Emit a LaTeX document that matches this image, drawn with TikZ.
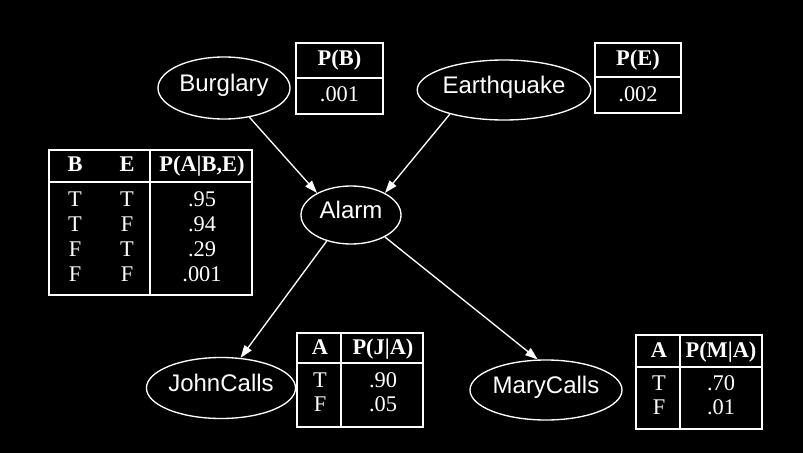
\documentclass[tikz,border=0pt]{standalone}
\usepackage{fontspec}
\setmainfont{Liberation Serif}
\newfontfamily\nodefont{Liberation Sans}
\usetikzlibrary{arrows.meta,shapes.geometric}
\tikzset{
  var/.style={draw=white, line width=1pt, ellipse, inner sep=0pt, text=white,
    font=\nodefont\fontsize{18}{20}\selectfont, text height=0.72em, text depth=0.21em},
  edge/.style={draw=white, line width=1pt, -{Triangle[length=9.5pt,width=6.5pt]}},
  frame/.style={draw=white, line width=1.5pt},
  sep/.style={draw=white, line width=2.1pt},
  cell/.style={text=white, inner sep=0pt, font=\fontsize{16.8}{18}\selectfont,
    text height=0.66em, text depth=0pt},
  head/.style={cell, font=\bfseries\fontsize{16.8}{18}\selectfont}
}
\begin{document}
\begin{tikzpicture}[x=0.75pt, y=-0.75pt]
\fill[black] (0,0) rectangle (803,453);
\useasboundingbox (0,0) rectangle (803,453);

% variables
\node[var, minimum width=99pt, minimum height=46.5pt] (burg) at (224,88) {Burglary};
\node[var, minimum width=124.5pt, minimum height=45pt] (eq) at (504,90) {Earthquake};
\node[var, minimum width=75pt, minimum height=43.5pt] (alarm) at (351,215) {Alarm};
\node[var, minimum width=111pt, minimum height=45.75pt] (john) at (221,388) {JohnCalls};
\node[var, minimum width=114pt, minimum height=45pt] (mary) at (546,390) {MaryCalls};

% edges
\draw[edge] (burg.-49) -- (alarm.147);
\draw[edge] (eq.204) -- (alarm.33);
\draw[edge] (alarm.-133) -- (john.57);
\draw[edge] (alarm.-33) -- (mary.105);

% P(B)
\draw[frame] (296,43) rectangle (383,114);
\draw[sep] (296,78) -- (383,78);
\node[head] (pbh) at (339.5,61) {P(B)};
\node[cell] (pbv) at (339.5,97) {.001};

% P(E)
\draw[frame] (595,43) rectangle (681,113);
\draw[sep] (595,77) -- (681,77);
\node[head] (peh) at (638,61) {P(E)};
\node[cell] (pev) at (638,97) {.002};

% P(A|B,E)
\draw[frame] (49,150) rectangle (252,295);
\draw[sep] (49,182) -- (252,182);
\draw[frame] (150,150) -- (150,295);
\node[head] (ahb) at (75,167) {B};
\node[head] (ahe) at (127,167) {E};
\node[head] (ahp) at (202,167) {P(A|B,E)};
\node[cell] (a1b) at (75,202) {T};
\node[cell] (a1e) at (127,202) {T};
\node[cell] (a1p) at (202,202) {.95};
\node[cell] (a2b) at (75,227) {T};
\node[cell] (a2e) at (127,227) {F};
\node[cell] (a2p) at (202,227) {.94};
\node[cell] (a3b) at (75,252) {F};
\node[cell] (a3e) at (127,252) {T};
\node[cell] (a3p) at (202,252) {.29};
\node[cell] (a4b) at (75,277) {F};
\node[cell] (a4e) at (127,277) {F};
\node[cell] (a4p) at (202,277) {.001};

% P(J|A)
\draw[frame] (297,333) rectangle (423,427);
\draw[sep] (297,363) -- (423,363);
\draw[frame] (341,333) -- (341,427);
\node[head] (jha) at (320,350) {A};
\node[head] (jhp) at (383,350) {P(J|A)};
\node[cell] (j1a) at (320,383) {T};
\node[cell] (j1p) at (383,383) {.90};
\node[cell] (j2a) at (320,407) {F};
\node[cell] (j2p) at (383,407) {.05};

% P(M|A)
\draw[frame] (636,335) rectangle (762,429);
\draw[sep] (636,367) -- (762,367);
\draw[frame] (680,335) -- (680,429);
\node[head] (mha) at (659,353) {A};
\node[head] (mhp) at (721,353) {P(M|A)};
\node[cell] (m1a) at (659,386) {T};
\node[cell] (m1p) at (721,386) {.70};
\node[cell] (m2a) at (659,410) {F};
\node[cell] (m2p) at (721,410) {.01};
\end{tikzpicture}
\end{document}
